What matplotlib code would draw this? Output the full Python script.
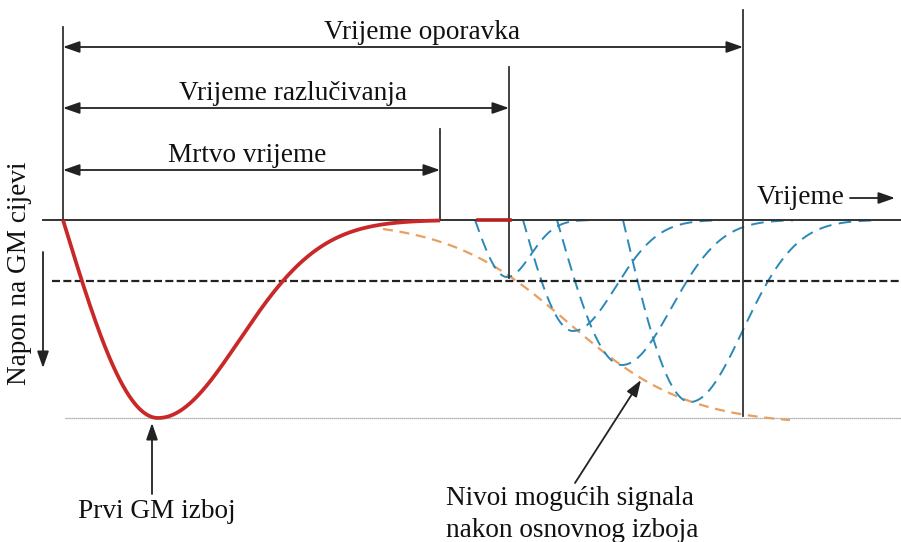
import matplotlib.pyplot as plt
import numpy as np

plt.rcParams["font.family"] = ["Liberation Serif", "DejaVu Serif"]

# Diagram units follow the picture (x to the right, y downwards)
base_y = 220          # zero voltage line
thresh_y = 281        # counting threshold
full_y = 418          # full pulse amplitude

# Vertical markers: x, top, bottom
mark_x = [63, 440, 509, 743]
mark_top = [27, 129, 67, 10]
mark_bot = [220, 220, 278, 416]

# Interval arrows
span_labels = ["Vrijeme oporavka", "Vrijeme razlučivanja", "Mrtvo vrijeme"]
span_end = [743, 509, 440]
span_y = [47, 108, 170]
span_text_x = [422, 293, 247]

# First GM discharge: start, minimum, depth, end of recovery
red_start, red_min, red_depth, red_end = 63, 158, 198, 440

# Later possible pulses
pulse_start = [475, 523, 557, 623]
pulse_min = [507, 573, 622, 690]
pulse_depth = [57, 111, 145, 182]
pulse_end = [590, 720, 793, 873]

# Envelope of possible pulse heights (logistic parameters)
env_x0, env_x1 = 383, 790
env_amp, env_mid, env_w = 205, 568, 60

FS = 19.6


def pulse(x0, xm, depth, xe, n=300):
    xd = np.linspace(x0, xm, n)
    yd = depth * np.sin(np.pi / 2 * (xd - x0) / (xm - x0))
    xr = np.linspace(xm, xe, n)
    s = (xe - xm) / 2.45
    yr = depth * np.exp(-(((xr - xm) / s) ** 2))
    return np.concatenate([xd, xr]), base_y + np.concatenate([yd, yr])


fig = plt.figure(figsize=(9.01, 5.42), dpi=100)
ax = fig.add_axes([0, 0, 1, 1])
ax.set_xlim(0, 901)
ax.set_ylim(542, 0)
ax.axis("off")

line_c = "#333333"

# reference lines
ax.plot([43, 901], [base_y, base_y], color=line_c, lw=1.4, zorder=3)
ax.plot([52, 901], [thresh_y, thresh_y], color="#222222", lw=1.6,
        dashes=(3.6, 1.5), zorder=3)
ax.plot([65, 901], [full_y, full_y], color="#999999", lw=0.9,
        dashes=(1, 0.6), zorder=1)

for x, t, b in zip(mark_x, mark_top, mark_bot):
    ax.plot([x, x], [t, b], color=line_c, lw=1.3, zorder=4)

arrow_kw = dict(arrowstyle="<|-|>,head_length=1.0,head_width=0.35",
                color="#222222", lw=1.3, shrinkA=0, shrinkB=0,
                mutation_scale=10)
for lab, xe, y, tx in zip(span_labels, span_end, span_y, span_text_x):
    ax.annotate("", xy=(xe, y), xytext=(mark_x[0], y), arrowprops=arrow_kw)
    ax.text(tx, y - 8, lab, ha="center", va="baseline", fontsize=FS,
            color="#111111")

# envelope
xe = np.linspace(env_x0, env_x1, 300)
ye = base_y + env_amp / (1 + np.exp(-(xe - env_mid) / env_w))
ax.plot(xe, ye, color="#e8a062", lw=1.6, dashes=(4.5, 3), zorder=2)

# possible pulses
for x0, xm, d, xn in zip(pulse_start, pulse_min, pulse_depth, pulse_end):
    px, py = pulse(x0, xm, d, xn)
    ax.plot(px, py, color="#2a89b8", lw=1.4, dashes=(6.5, 3.8), zorder=2)

# first discharge
rx, ry = pulse(red_start, red_min, red_depth, red_end)
ax.plot(rx, ry, color="#c92828", lw=2.7, zorder=5, solid_capstyle="butt")
ax.plot([478, 510], [base_y, base_y], color="#b52020", lw=2.6, zorder=5)

# time label
ax.text(757, 204, "Vrijeme", ha="left", va="baseline", fontsize=FS,
        color="#111111")
single_kw = dict(arrowstyle="-|>,head_length=1.0,head_width=0.35",
                 color="#222222", lw=1.3, shrinkA=0, shrinkB=0,
                 mutation_scale=10)
ax.annotate("", xy=(895, 198), xytext=(850, 198), arrowprops=single_kw)

# voltage label
ax.text(20, 273, "Napon na GM cijevi", rotation=90, ha="center",
        va="center", fontsize=FS, color="#111111")
ax.annotate("", xy=(43, 368), xytext=(43, 252), arrowprops=single_kw)

# bottom labels
ax.annotate("", xy=(152, 423), xytext=(152, 494), arrowprops=single_kw)
ax.text(157, 518, "Prvi GM izboj", ha="center", va="baseline", fontsize=FS,
        color="#111111")

ax.annotate("", xy=(641, 380), xytext=(575, 483), arrowprops=single_kw)
ax.text(446, 505, "Nivoi mogućih signala", ha="left", va="baseline",
        fontsize=FS, color="#111111")
ax.text(446, 537, "nakon osnovnog izboja", ha="left", va="baseline",
        fontsize=FS, color="#111111")

fig.savefig("out.png", dpi=100)
